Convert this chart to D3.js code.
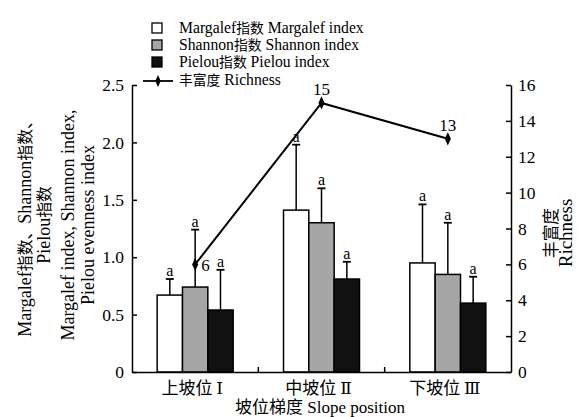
<!DOCTYPE html>
<html><head><meta charset="utf-8">
<script src="https://cdn.jsdelivr.net/npm/d3@7"></script>
<style>body{margin:0;background:#fff}svg{display:block}
svg text{font-family:"Liberation Serif",serif}
.cjk{font-family:"Noto Sans CJK SC",sans-serif}
.sm{font-size:0.88em}
.rom{font-family:"DejaVu Serif","Liberation Serif",serif}</style>
</head><body>
<script>
const categories = ["上坡位Ⅰ", "中坡位Ⅱ", "下坡位Ⅲ"];
const seriesNames = ["Margalef指数 Margalef index", "Shannon指数 Shannon index", "Pielou指数 Pielou index"];
const seriesColors = ["#ffffff", "#a6a6a6", "#111111"];
const margalef = [0.67, 1.41, 0.95];
const margalefErr = [0.14, 0.57, 0.51];
const shannon = [0.74, 1.30, 0.85];
const shannonErr = [0.50, 0.30, 0.45];
const pielou = [0.54, 0.81, 0.60];
const pielouErr = [0.35, 0.15, 0.23];
const sigLabels = [["a","a","a"],["a","a","a"],["a","a","a"]];
const richness = [6, 15, 13];
const leftTicks = [0, 0.5, 1.0, 1.5, 2.0, 2.5];
const rightTicks = [0, 2, 4, 6, 8, 10, 12, 14, 16];

const W = 586, H = 417;
const m = {l:132, r:511, t:85, b:372};
const svg = d3.select("body").append("svg").attr("width", W).attr("height", H);

const cjkRe = /[\u3000-\u303f\u4e00-\u9fff\uff00-\uffef]+/g;
function mixed(sel, str, small) {
  sel.text(null);
  let last = 0, mt;
  cjkRe.lastIndex = 0;
  while ((mt = cjkRe.exec(str)) !== null) {
    if (mt.index > last) sel.append("tspan").text(str.slice(last, mt.index));
    sel.append("tspan").attr("class", small ? "cjk sm" : "cjk").text(mt[0]);
    last = mt.index + mt[0].length;
  }
  if (last < str.length) sel.append("tspan").text(str.slice(last));
  return sel;
}

const x = d3.scaleBand().domain(categories).range([m.l, m.r]);
const xs = d3.scaleBand().domain([0,1,2]).range([0, 76]);
const yL = d3.scaleLinear().domain([0, 2.5]).range([m.b, m.t]);
const yR = d3.scaleLinear().domain([0, 16]).range([m.b, m.t]);

const vals = [margalef, shannon, pielou];
const errs = [margalefErr, shannonErr, pielouErr];

categories.forEach((c, ci) => {
  const cx = x(c) + x.bandwidth()/2 - 38;
  vals.forEach((s, si) => {
    const bx = cx + xs(si);
    const bw = xs.bandwidth();
    const top = yL(s[ci]);
    const etop = yL(s[ci] + errs[si][ci]);
    const mid = bx + bw/2;
    svg.append("line").attr("x1", mid).attr("x2", mid).attr("y1", top).attr("y2", etop)
      .attr("stroke", "#000").attr("stroke-width", 1.5);
    svg.append("line").attr("x1", mid-4).attr("x2", mid+4).attr("y1", etop).attr("y2", etop)
      .attr("stroke", "#000").attr("stroke-width", 1.8);
    svg.append("rect").attr("x", bx).attr("y", top).attr("width", bw).attr("height", m.b - top)
      .attr("fill", seriesColors[si]).attr("stroke", "#000").attr("stroke-width", 1.5);
    svg.append("text").attr("x", mid).attr("y", etop - 3).attr("text-anchor", "middle")
      .attr("font-size", 16).text(sigLabels[ci][si]);
  });
});

const line = d3.line().x((d,i) => x(categories[i]) + x.bandwidth()/2).y(d => yR(d));
svg.append("path").datum(richness).attr("d", line).attr("fill", "none")
  .attr("stroke", "#000").attr("stroke-width", 2);
richness.forEach((d, i) => {
  const px = x(categories[i]) + x.bandwidth()/2, py = yR(d);
  svg.append("path").attr("d", d3.symbol(d3.symbolDiamond, 50)())
    .attr("transform", `translate(${px},${py}) scale(0.8,1)`).attr("fill", "#000");
});
svg.append("text").attr("x", x(categories[0]) + x.bandwidth()/2 + 6).attr("y", yR(richness[0]) + 7)
  .attr("font-size", 17).text(richness[0]);
[1,2].forEach(i => {
  svg.append("text").attr("x", x(categories[i]) + x.bandwidth()/2).attr("y", yR(richness[i]) - 8)
    .attr("text-anchor", "middle").attr("font-size", 17).text(richness[i]);
});

const axL = svg.append("g").attr("transform", `translate(${m.l},0)`)
  .call(d3.axisLeft(yL).tickValues(leftTicks).tickSizeInner(-5).tickSizeOuter(0).tickPadding(8)
    .tickFormat(d => d === 0 ? "0" : d3.format(".1f")(d)));
const axR = svg.append("g").attr("transform", `translate(${m.r},0)`)
  .call(d3.axisRight(yR).tickValues(rightTicks).tickSizeInner(-5).tickSizeOuter(0).tickPadding(7));
const axB = svg.append("g").attr("transform", `translate(0,${m.b})`)
  .call(d3.axisBottom(x).tickSize(0).tickPadding(10));
[axL, axR, axB].forEach(g => {
  g.attr("font-family", null);
  g.selectAll("text").attr("font-size", 17.5).attr("fill", "#000");
  g.selectAll("line,path").attr("stroke", "#000").attr("stroke-width", 1.5);
});
[categories[1], categories[2]].forEach(c => {
  svg.append("line").attr("x1", x(c)).attr("x2", x(c)).attr("y1", m.b).attr("y2", m.b - 5)
    .attr("stroke", "#000").attr("stroke-width", 1.5);
});
axB.selectAll("text").each(function(d) {
  const t = d3.select(this);
  t.text(null).attr("dx", -3).attr("font-size", 17);
  t.append("tspan").attr("class", "cjk").text(d.slice(0, 3) + " ");
  t.append("tspan").attr("class", "rom").text(d.slice(3));
});

// axis titles
const lt = svg.append("g").attr("transform", "translate(0,225) rotate(-90)")
  .attr("text-anchor", "middle").attr("font-size", 18);
mixed(lt.append("text").attr("x", 0).attr("y", 31), "Margalef指数、Shannon指数、", true);
mixed(lt.append("text").attr("x", 0).attr("y", 50), "Pielou指数", true);
lt.append("text").attr("x", 0).attr("y", 74).text("Margalef index, Shannon index,");
lt.append("text").attr("x", 0).attr("y", 94).text("Pielou evenness index");
const rt = svg.append("g").attr("transform", "translate(0,233) rotate(-90)")
  .attr("text-anchor", "middle").attr("font-size", 19);
mixed(rt.append("text").attr("x", 0).attr("y", 557), "丰富度", true);
rt.append("text").attr("x", 0).attr("y", 572).text("Richness");
mixed(svg.append("text").attr("x", 320).attr("y", 413).attr("text-anchor", "middle")
  .attr("font-size", 17), "坡位梯度 Slope position");

// legend
const lg = svg.append("g");
const rows = [28, 45, 62];
seriesNames.forEach((n, i) => {
  lg.append("rect").attr("x", 152).attr("y", rows[i] - 5).attr("width", 10).attr("height", 10)
    .attr("fill", seriesColors[i]).attr("stroke", "#000").attr("stroke-width", 1.3);
  mixed(lg.append("text").attr("x", 179).attr("y", rows[i] + 5).attr("font-size", 15.7), n, true);
});
lg.append("line").attr("x1", 143).attr("x2", 173).attr("y1", 81).attr("y2", 81)
  .attr("stroke", "#000").attr("stroke-width", 1.8);
lg.append("path").attr("d", d3.symbol(d3.symbolDiamond, 40)())
  .attr("transform", "translate(158,81) scale(0.8,1)").attr("fill", "#000");
mixed(lg.append("text").attr("x", 179).attr("y", 85).attr("font-size", 15.7), "丰富度 Richness", true);
</script>
</body></html>
